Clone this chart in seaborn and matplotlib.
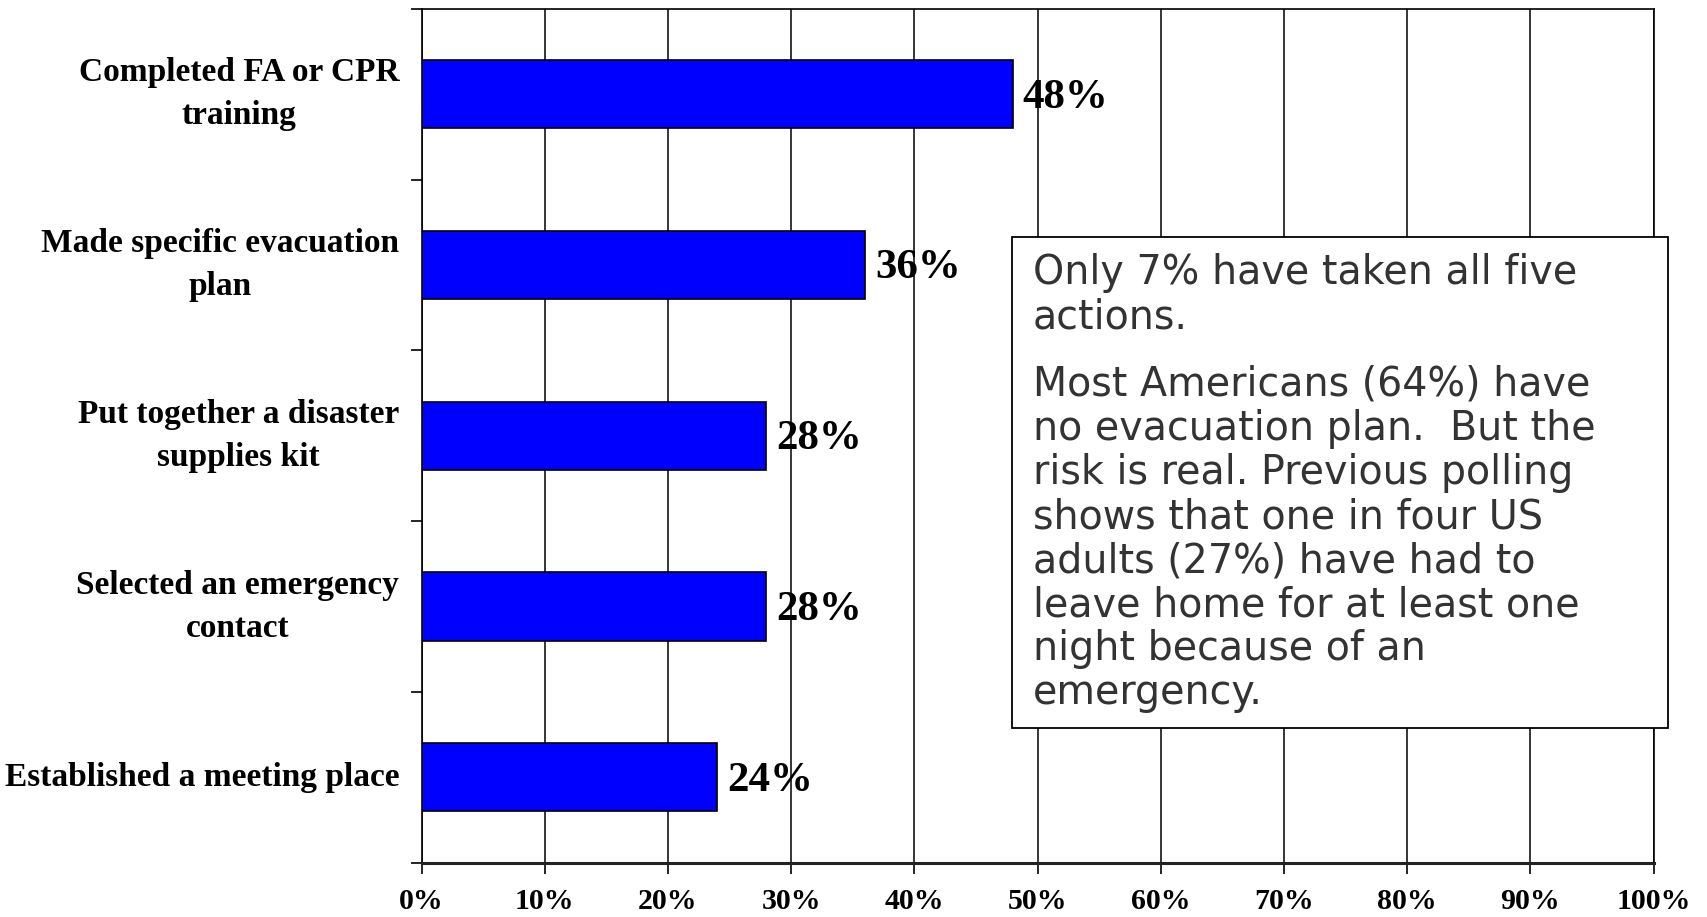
import numpy as np
import pandas as pd
import matplotlib
matplotlib.use("Agg")
import matplotlib.pyplot as plt
import seaborn as sns
from matplotlib.patches import Rectangle

actions = ["Completed FA or CPR\ntraining",
           "Made specific evacuation\nplan",
           "Put together a disaster\nsupplies kit",
           "Selected an emergency\ncontact",
           "Established a meeting place"]
pct = [48, 36, 28, 28, 24]
xticks = list(range(0, 101, 10))
xlabels = [f"{t}%" for t in xticks]

note1 = "Only 7% have taken all five\nactions."
note2 = ("Most Americans (64%) have\nno evacuation plan.  But the\n"
         "risk is real. Previous polling\nshows that one in four US\n"
         "adults (27%) have had to\nleave home for at least one\n"
         "night because of an\nemergency.")

df = pd.DataFrame({"action": actions, "pct": pct})

sns.set_style("white")
plt.rcParams["text.color"] = "black"
plt.rcParams["xtick.color"] = "black"
plt.rcParams["ytick.color"] = "black"
serif = ["Liberation Serif", "DejaVu Serif"]

fig = plt.figure(figsize=(17.08, 9.17), dpi=100)
ax = fig.add_axes([0.2468, 0.0592, 0.7213, 0.9313])

sns.barplot(data=df, x="pct", y="action", orient="h", color="#0000ff",
            saturation=1, width=0.4, edgecolor="black", linewidth=1.2, ax=ax)

ax.set_xlim(0, 100)
ax.set_ylim(4.5, -0.5)
ax.set_xlabel("")
ax.set_ylabel("")
ax.set_xticks(xticks)
ax.set_xticklabels(xlabels, fontsize=21.5, fontweight="bold", family=serif, color="black")
ax.set_yticks(range(len(actions)))
ax.set_yticklabels(actions, fontsize=24, fontweight="bold", family=serif,
                   linespacing=1.5, va="center", color="black")
for t in ax.get_yticklabels():
    t.set_multialignment("center")
ax.set_yticks(np.arange(-0.5, 5, 1), minor=True)
ax.tick_params(axis="y", which="major", length=0, pad=16)
ax.tick_params(axis="y", which="minor", length=8, width=1.2, color="black", direction="out", left=True)
ax.tick_params(axis="x", length=8, width=1.2, color="black", direction="out", bottom=True, pad=10)

ax.grid(axis="x", color="black", linewidth=1.1)
ax.grid(axis="y", visible=False)
ax.set_axisbelow(True)
for side in ["left", "top", "right"]:
    ax.spines[side].set_visible(True)
    ax.spines[side].set_color("black")
    ax.spines[side].set_linewidth(1.2)
ax.spines["bottom"].set_color("#222222")
ax.spines["bottom"].set_linewidth(2.2)

for i, v in enumerate(pct):
    ax.text(v + 0.8, i + 0.02, f"{v}%", va="center", ha="left", fontsize=31,
            fontweight="bold", family=serif, color="black")

# note box
fig.patches.append(Rectangle((0.5925, 0.2061), 0.384, 0.5354, transform=fig.transFigure,
                             facecolor="white", edgecolor="black", linewidth=1.3, zorder=5))
fig.text(0.6048, 0.724, note1, ha="left", va="top", fontsize=28.5, color="#333333",
         family=["DejaVu Sans"], linespacing=1.13, zorder=6)
fig.text(0.6048, 0.602, note2, ha="left", va="top", fontsize=28.5, color="#333333",
         family=["DejaVu Sans"], linespacing=1.13, zorder=6)

fig.savefig("out.png", dpi=100)
